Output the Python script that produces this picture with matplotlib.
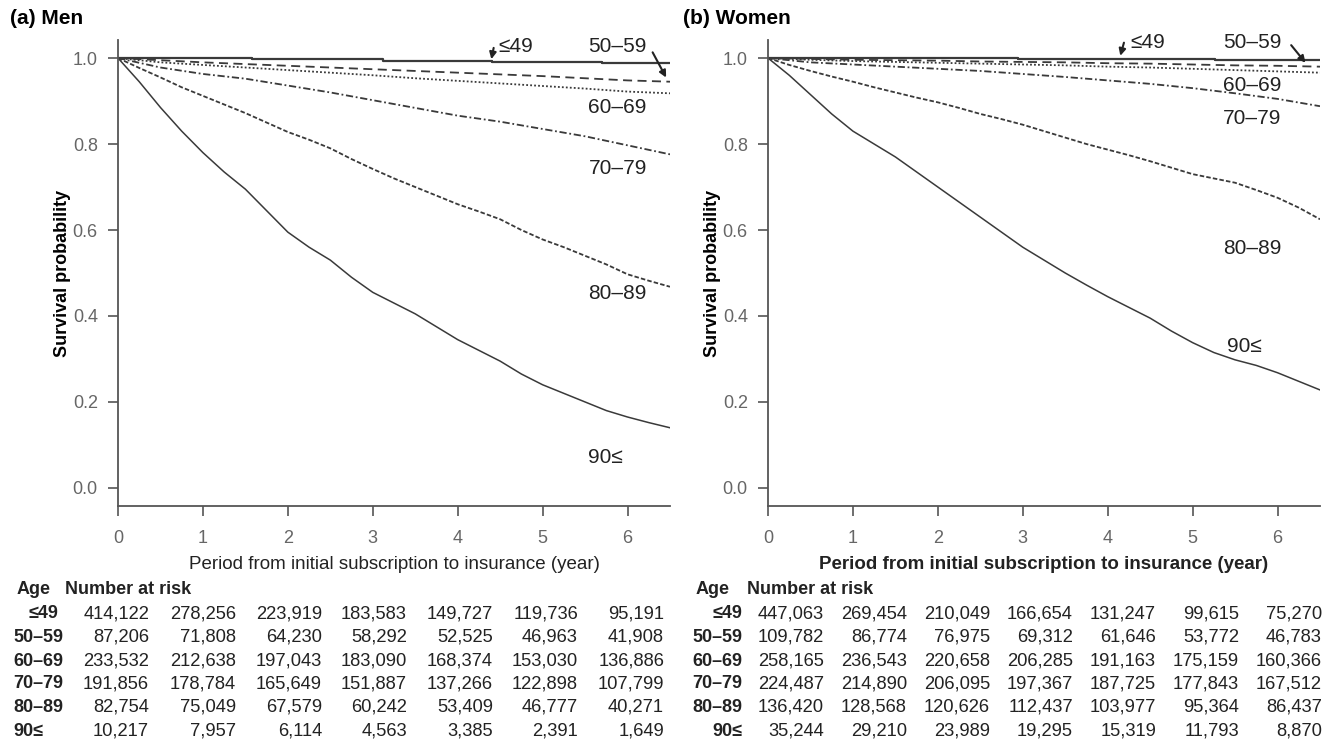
import matplotlib
matplotlib.use('Agg')
import matplotlib.pyplot as plt

plt.rcParams['font.family'] = ['Liberation Sans', 'DejaVu Sans']
NARROW = ['Liberation Sans Narrow', 'Liberation Sans', 'DejaVu Sans']

# survival curves (year -> probability)
years = [0, 0.5, 1, 1.5, 2, 2.5, 3, 3.5, 4, 4.5, 5, 5.5, 6, 6.5]
years_fine = [0, 0.25, 0.5, 0.75, 1, 1.25, 1.5, 1.75, 2, 2.25, 2.5, 2.75, 3, 3.25,
              3.5, 3.75, 4, 4.25, 4.5, 4.75, 5, 5.25, 5.5, 5.75, 6, 6.25, 6.5]

men_50 = [1.0, 0.995, 0.99, 0.986, 0.982, 0.978, 0.974, 0.97, 0.966, 0.962, 0.958, 0.953, 0.948, 0.945]
men_60 = [1.0, 0.99, 0.984, 0.978, 0.972, 0.966, 0.96, 0.953, 0.947, 0.941, 0.935, 0.929, 0.922, 0.918]
men_70 = [1.0, 0.978, 0.963, 0.952, 0.936, 0.92, 0.902, 0.884, 0.866, 0.852, 0.835, 0.818, 0.797, 0.776]
men_80 = [1.0, 0.977, 0.955, 0.932, 0.912, 0.892, 0.872, 0.85, 0.828, 0.81, 0.79, 0.765, 0.742, 0.72,
          0.70, 0.68, 0.66, 0.643, 0.625, 0.60, 0.578, 0.56, 0.54, 0.52, 0.497, 0.482, 0.468]
men_90 = [1.0, 0.945, 0.885, 0.83, 0.78, 0.735, 0.695, 0.645, 0.595, 0.56, 0.53, 0.49, 0.455, 0.43,
          0.405, 0.375, 0.345, 0.32, 0.295, 0.265, 0.24, 0.22, 0.20, 0.18, 0.165, 0.152, 0.14]
men_49_t = [0, 1.58, 3.12, 4.4, 5.7, 6.5]
men_49 = [1.0, 0.997, 0.994, 0.991, 0.988, 0.988]

wom_50 = [1.0, 0.998, 0.996, 0.995, 0.994, 0.992, 0.991, 0.99, 0.988, 0.987, 0.985, 0.983, 0.982, 0.98]
wom_60 = [1.0, 0.996, 0.993, 0.991, 0.989, 0.987, 0.985, 0.983, 0.98, 0.978, 0.975, 0.972, 0.969, 0.966]
wom_70 = [1.0, 0.99, 0.985, 0.98, 0.975, 0.97, 0.963, 0.956, 0.948, 0.94, 0.93, 0.918, 0.905, 0.888]
wom_80 = [1.0, 0.984, 0.97, 0.957, 0.945, 0.932, 0.92, 0.908, 0.897, 0.884, 0.87, 0.858, 0.845, 0.83,
          0.815, 0.80, 0.787, 0.774, 0.76, 0.745, 0.73, 0.72, 0.71, 0.693, 0.675, 0.652, 0.625]
wom_90 = [1.0, 0.96, 0.915, 0.87, 0.83, 0.80, 0.77, 0.735, 0.70, 0.665, 0.63, 0.595, 0.56, 0.53,
          0.50, 0.472, 0.445, 0.42, 0.395, 0.365, 0.338, 0.315, 0.298, 0.285, 0.268, 0.248, 0.228]
wom_49_t = [0, 2.94, 5.26, 6.5]
wom_49 = [1.0, 0.998, 0.996, 0.996]

ages = ['≤49', '50–59', '60–69', '70–79', '80–89', '90≤']

men_risk = [
    ['414,122', '278,256', '223,919', '183,583', '149,727', '119,736', '95,191'],
    ['87,206', '71,808', '64,230', '58,292', '52,525', '46,963', '41,908'],
    ['233,532', '212,638', '197,043', '183,090', '168,374', '153,030', '136,886'],
    ['191,856', '178,784', '165,649', '151,887', '137,266', '122,898', '107,799'],
    ['82,754', '75,049', '67,579', '60,242', '53,409', '46,777', '40,271'],
    ['10,217', '7,957', '6,114', '4,563', '3,385', '2,391', '1,649'],
]
women_risk = [
    ['447,063', '269,454', '210,049', '166,654', '131,247', '99,615', '75,270'],
    ['109,782', '86,774', '76,975', '69,312', '61,646', '53,772', '46,783'],
    ['258,165', '236,543', '220,658', '206,285', '191,163', '175,159', '160,366'],
    ['224,487', '214,890', '206,095', '197,367', '187,725', '177,843', '167,512'],
    ['136,420', '128,568', '120,626', '112,437', '103,977', '95,364', '86,437'],
    ['35,244', '29,210', '23,989', '19,295', '15,319', '11,793', '8,870'],
]

W, H = 1325, 749
fig = plt.figure(figsize=(W / 100, H / 100), dpi=100)

def fx(px):
    return px / W

def fy(py):
    return 1 - py / H

LC = '#3a3a3a'

def setup(ax, xlabel, bold_xlabel):
    ax.set_xlim(0, 6.5)
    ax.set_ylim(-0.042, 1.042)
    for s in ['top', 'right']:
        ax.spines[s].set_visible(False)
    for s in ['left', 'bottom']:
        ax.spines[s].set_color('#555555')
        ax.spines[s].set_linewidth(1.3)
    ax.set_xticks(range(7))
    ax.set_yticks([0, 0.2, 0.4, 0.6, 0.8, 1.0])
    ax.set_yticklabels(['0.0', '0.2', '0.4', '0.6', '0.8', '1.0'])
    ax.tick_params(direction='out', length=7.5, width=1.2, color='#555555',
                   labelcolor='#666666', labelsize=13)
    ax.tick_params(axis='x', pad=10)
    ax.tick_params(axis='y', pad=7)
    for lab in ax.get_xticklabels() + ax.get_yticklabels():
        lab.set_family(NARROW)
    ax.set_ylabel('Survival probability', fontsize=13, fontweight='bold', labelpad=1)
    ax.set_xlabel(xlabel, fontsize=13.5, fontweight='bold' if bold_xlabel else 'normal',
                  labelpad=6, color='#222222')

def curves(ax, c49_t, c49, c50, c60, c70, c80, c90):
    ax.plot(c49_t, c49, color=LC, lw=1.6, drawstyle='steps-post')
    ax.plot(years, c50, color=LC, lw=1.3, ls=(0, (5, 3)))
    ax.plot(years, c60, color=LC, lw=1.3, ls=(0, (1, 1.2)))
    ax.plot(years, c70, color=LC, lw=1.3, ls=(0, (4, 1.5, 1, 1.5)))
    ax.plot(years_fine, c80, color=LC, lw=1.3, ls=(0, (2.5, 1.2)))
    ax.plot(years_fine, c90, color=LC, lw=1.1)

arrow = dict(arrowstyle='-|>', color='#222222', lw=1.5, mutation_scale=10)
lab_kw = dict(fontsize=15, color='#222222', va='center', ha='left')

# ---- Men
ax1 = fig.add_axes([fx(118), fy(506), fx(670) - fx(118), fy(40) - fy(506)])
curves(ax1, men_49_t, men_49, men_50, men_60, men_70, men_80, men_90)
setup(ax1, 'Period from initial subscription to insurance (year)', False)
ax1.text(4.48, 1.026, '≤49', **lab_kw)
ax1.annotate('', xy=(4.39, 0.991), xytext=(4.43, 1.03), arrowprops=arrow)
ax1.text(5.54, 1.026, '50–59', **lab_kw)
ax1.annotate('', xy=(6.47, 0.949), xytext=(6.28, 1.019), arrowprops=arrow)
ax1.text(5.54, 0.884, '60–69', **lab_kw)
ax1.text(5.54, 0.744, '70–79', **lab_kw)
ax1.text(5.54, 0.453, '80–89', **lab_kw)
ax1.text(5.54, 0.07, '90≤', **lab_kw)
fig.text(fx(10), fy(18), '(a) Men', fontsize=15, fontweight='bold', va='center', ha='left')

# ---- Women
ax2 = fig.add_axes([fx(768), fy(506), fx(1320) - fx(768), fy(40) - fy(506)])
curves(ax2, wom_49_t, wom_49, wom_50, wom_60, wom_70, wom_80, wom_90)
setup(ax2, 'Period from initial subscription to insurance (year)', True)
ax2.text(4.27, 1.037, '≤49', **lab_kw)
ax2.annotate('', xy=(4.14, 0.999), xytext=(4.2, 1.042), arrowprops=arrow)
ax2.text(5.36, 1.037, '50–59', **lab_kw)
ax2.annotate('', xy=(6.35, 0.984), xytext=(6.14, 1.035), arrowprops=arrow)
ax2.text(5.36, 0.937, '60–69', **lab_kw)
ax2.text(5.36, 0.86, '70–79', **lab_kw)
ax2.text(5.36, 0.558, '80–89', **lab_kw)
ax2.text(5.4, 0.33, '90≤', **lab_kw)
fig.text(fx(683), fy(18), '(b) Women', fontsize=15, fontweight='bold', va='center', ha='left')

# ---- number at risk tables
row_y = [614, 637, 661, 684, 707, 731]
head_y = 590
men_cols = [149, 236, 322, 407, 493, 578, 664]
wom_cols = [824, 907, 990, 1073, 1156, 1239, 1322]
tkw = dict(color='#222222', va='center')

fig.text(fx(17), fy(head_y), 'Age', fontsize=13, fontweight='bold', ha='left', **tkw)
fig.text(fx(65), fy(head_y), 'Number at risk', fontsize=13, fontweight='bold', ha='left', **tkw)
fig.text(fx(730), fy(head_y), 'Age', fontsize=13, fontweight='bold', ha='right', **tkw)
fig.text(fx(747), fy(head_y), 'Number at risk', fontsize=13, fontweight='bold', ha='left', **tkw)

for i, age in enumerate(ages):
    if i == 0:
        fig.text(fx(58), fy(row_y[i]), age, fontsize=13, fontweight='bold', ha='right', **tkw)
    else:
        fig.text(fx(13), fy(row_y[i]), age, fontsize=13, fontweight='bold', ha='left', **tkw)
    fig.text(fx(742), fy(row_y[i]), age, fontsize=13, fontweight='bold', ha='right', **tkw)
    for j in range(7):
        fig.text(fx(men_cols[j]), fy(row_y[i]), men_risk[i][j], fontsize=13.2, ha='right', **tkw)
        fig.text(fx(wom_cols[j]), fy(row_y[i]), women_risk[i][j], fontsize=13.2, ha='right', **tkw)

fig.savefig('out.png', dpi=100)
